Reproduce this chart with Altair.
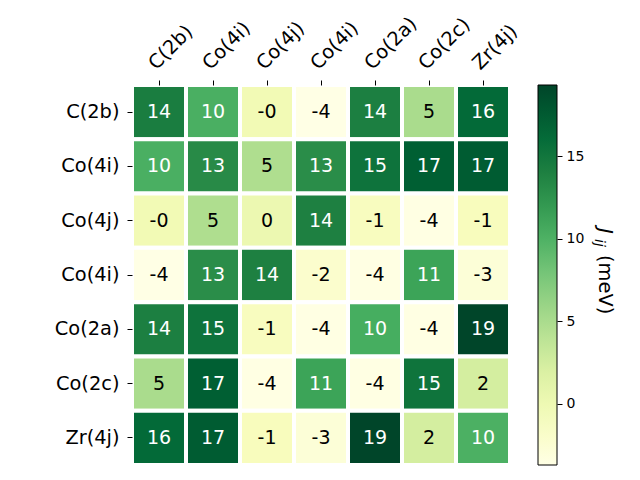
import json
import altair as alt
import pandas as pd

# --- data -----------------------------------------------------------------
names = ["C(2b)", "Co(4i)", "Co(4j)", "Co(4i)", "Co(2a)", "Co(2c)", "Zr(4j)"]

row_c2b = [14.3, 10.2, -0.3, -3.7, 14.1, 5.1, 16.2]
row_co4i_a = [10.2, 13.1, 4.8, 12.9, 15.3, 17.2, 17.4]
row_co4j = [-0.3, 4.8, 0.2, 14.0, -1.2, -3.6, -1.1]
row_co4i_b = [-3.7, 12.9, 14.0, -2.1, -3.6, 11.2, -2.8]
row_co2a = [14.1, 15.3, -1.2, -3.6, 10.4, -3.6, 19.3]
row_co2c = [5.1, 17.2, -3.6, 11.2, -3.6, 15.2, 2.4]
row_zr4j = [16.2, 17.4, -1.1, -2.8, 19.3, 2.4, 10.1]
matrix = [row_c2b, row_co4i_a, row_co4j, row_co4i_b, row_co2a, row_co2c, row_zr4j]

cbar_ticks = [0, 5, 10, 15]
cbar_domain = [-3.7, 19.3]

# matplotlib "YlGn" colormap anchor colours
ylgn = ["#ffffe5", "#f7fcb9", "#d9f0a3", "#addd8e", "#78c679",
        "#41ab5d", "#238443", "#006837", "#004529"]
lo, hi = cbar_domain
n = len(ylgn) - 1
color_domain = [lo + (hi - lo) * k / n for k in range(n + 1)]

records = []
for i, r in enumerate(matrix):
    for j, v in enumerate(r):
        records.append({"row": i, "col": j, "value": v, "label": f"{v:.0f}"})
df = pd.DataFrame(records)
ticks_df = pd.DataFrame({"tick": cbar_ticks})

label_expr = json.dumps(names) + "[datum.value]"
FONT = "DejaVu Sans"

x_enc = alt.X(
    "col:O",
    scale=alt.Scale(paddingInner=0, paddingOuter=0),
    axis=alt.Axis(
        orient="top", title=None, labelExpr=label_expr, labelAngle=-45,
        labelAlign="left", labelBaseline="bottom", labelFontSize=19.4,
        labelFont=FONT, labelColor="black", labelPadding=7, domain=False,
        tickSize=5, tickColor="black", tickWidth=1, labelOverlap=False,
    ),
)
y_enc = alt.Y(
    "row:O",
    scale=alt.Scale(paddingInner=0, paddingOuter=0),
    axis=alt.Axis(
        orient="left", title=None, labelExpr=label_expr, labelFontSize=19.4,
        labelFont=FONT, labelColor="black", labelPadding=8, domain=False,
        tickSize=5, tickColor="black", tickWidth=1, labelOverlap=False,
    ),
)

base = alt.Chart(df).encode(x=x_enc, y=y_enc)

rect = base.mark_rect(stroke="white", strokeWidth=4).encode(
    color=alt.Color(
        "value:Q",
        scale=alt.Scale(domain=color_domain, range=ylgn, interpolate="rgb",
                        nice=False, zero=False),
        legend=alt.Legend(
            orient="none", legendX=406, legendY=0, direction="vertical",
            gradientLength=380, gradientThickness=19, title=None,
            values=cbar_ticks, labelExpr="''", labelFontSize=1,
            gradientStrokeColor="black", gradientStrokeWidth=1, padding=0,
            labelOverlap=False,
        ),
    )
)

text = base.mark_text(fontSize=19, font=FONT).encode(
    text="label:N",
    color=alt.condition("datum.value > 7.8", alt.value("white"), alt.value("black")),
)

heat = alt.layer(rect, text)

# colourbar ticks and labels: an axis on the colour range, beside the gradient
cbar_axis = alt.Chart(ticks_df).mark_point(opacity=0).encode(
    y=alt.Y(
        "tick:Q",
        scale=alt.Scale(domain=cbar_domain, nice=False, zero=False),
        axis=alt.Axis(
            orient="right", offset=47, title=None, values=cbar_ticks,
            domain=False, grid=False, tickSize=5, tickColor="black",
            labelFontSize=14, labelFont=FONT, labelColor="black",
            labelPadding=4, labelOverlap=False, format="d",
        ),
    ),
    x=alt.value(0),
)

t_j = alt.Chart(pd.DataFrame({"t": ["J"]})).mark_text(
    angle=90, align="left", baseline="middle", fontSize=20,
    fontStyle="italic", font=FONT, color="black",
).encode(x=alt.value(473), y=alt.value(143), text="t:N")
t_ij = alt.Chart(pd.DataFrame({"t": ["ij"]})).mark_text(
    angle=90, align="left", baseline="middle", fontSize=14,
    fontStyle="italic", font=FONT, color="black",
).encode(x=alt.value(467), y=alt.value(154), text="t:N")
t_unit = alt.Chart(pd.DataFrame({"t": ["(meV)"]})).mark_text(
    angle=90, align="left", baseline="middle", fontSize=19.4,
    font=FONT, color="black",
).encode(x=alt.value(473), y=alt.value(170), text="t:N")

chart = alt.layer(heat, cbar_axis, t_j, t_ij, t_unit).resolve_scale(
    y="independent"
).properties(
    width=378, height=380,
    padding={"left": 132, "top": 85, "right": 130, "bottom": 15},
    autosize="none",
).configure_view(stroke=None).configure(background="white")

chart.save("out.html", embed_options={"renderer": "svg", "actions": False})
